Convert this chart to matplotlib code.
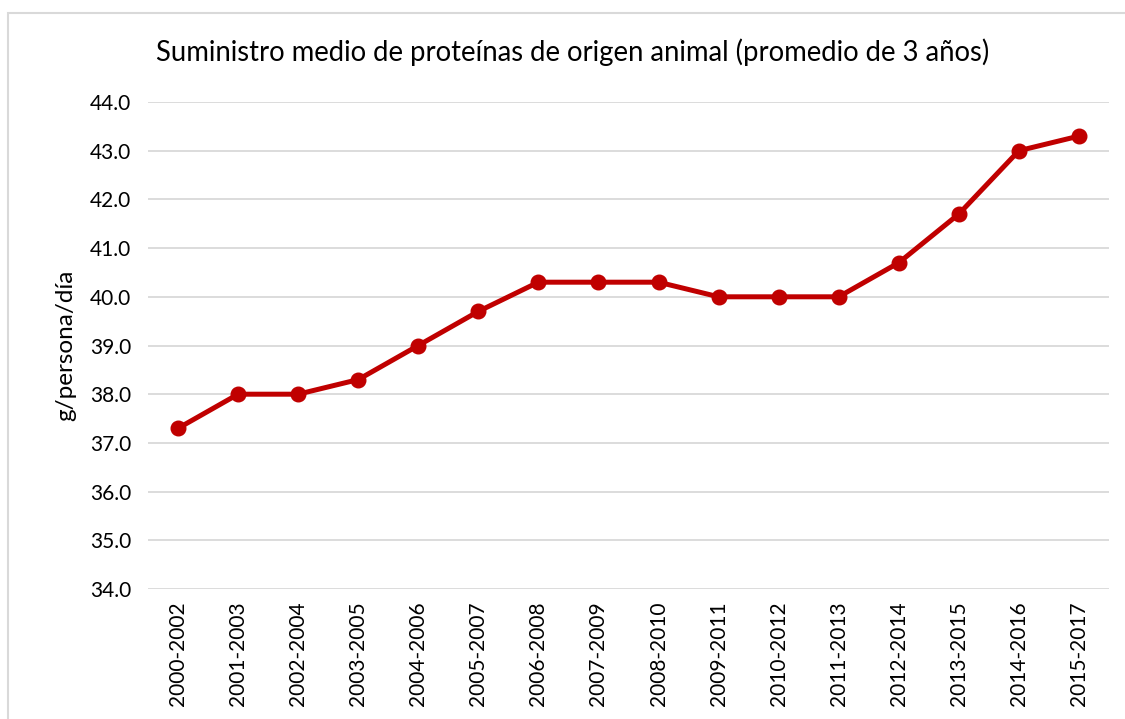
import matplotlib.pyplot as plt
import matplotlib.patches as mpatches

periods = ['2000-2002', '2001-2003', '2002-2004', '2003-2005', '2004-2006', '2005-2007',
           '2006-2008', '2007-2009', '2008-2010', '2009-2011', '2010-2012', '2011-2013',
           '2012-2014', '2013-2015', '2014-2016', '2015-2017']
supply = [37.3, 38.0, 38.0, 38.3, 39.0, 39.7, 40.3, 40.3, 40.3, 40.0, 40.0, 40.0,
          40.7, 41.7, 43.0, 43.3]
yticks = [34, 35, 36, 37, 38, 39, 40, 41, 42, 43, 44]

plt.rcParams['font.family'] = ['Lato', 'DejaVu Sans']

fig = plt.figure(figsize=(11.25, 7.19), dpi=100)
ax = fig.add_axes([148 / 1125, 1 - 589 / 719, 961 / 1125, 487 / 719])

# light frame around the chart, as in the spreadsheet export
fig.patches.append(mpatches.Rectangle(
    (8 / 1125, -0.05), 1.2, 1 - 13 / 719 + 0.05, transform=fig.transFigure,
    fill=False, edgecolor='#d9d9d9', linewidth=1.5))

x = list(range(len(periods)))
ax.plot(x, supply, color='#c00000', linewidth=3.6, marker='o', markersize=10.5)

ax.set_xlim(-0.5, len(periods) - 0.5)
ax.set_ylim(34, 44)
ax.set_yticks(yticks)
ax.set_yticklabels(['{:.1f}'.format(v) for v in yticks], fontsize=15)
ax.set_xticks(x)
ax.set_xticklabels(periods, rotation=90, fontsize=15)
ax.tick_params(length=0, pad=12)
ax.tick_params(axis='x', pad=9)
ax.grid(axis='y', color='#d9d9d9', linewidth=1.3)
ax.set_axisbelow(True)
for s in ax.spines.values():
    s.set_visible(False)

ax.set_ylabel('g/persona/día', fontsize=17.5, labelpad=10)
fig.text(573 / 1125, 1 - 52 / 719, 'Suministro medio de proteínas de origen animal (promedio de 3 años)',
         ha='center', va='center', fontsize=19.8)

fig.savefig('out.png', dpi=100)
